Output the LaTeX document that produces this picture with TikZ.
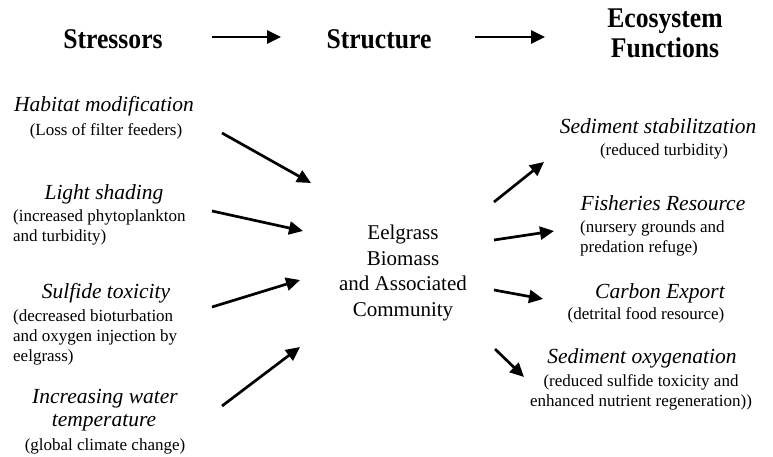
\documentclass[tikz,border=0pt]{standalone}
\usepackage{fontspec}
\setmainfont{Liberation Serif}
\newfontfamily\headfont{Liberation Serif}[FakeStretch=0.9]
\usetikzlibrary{arrows.meta}
\begin{document}
\begin{tikzpicture}[x=1pt,y=-1pt,>={Triangle[length=14pt,width=13pt]},line join=round,
  flow/.style={->,line width=2.7pt},
  head/.style={font=\fontsize{28.5}{30}\selectfont\headfont\bfseries,align=center,inner sep=0pt},
  stressor/.style={font=\fontsize{21.5}{24}\selectfont\itshape,anchor=base,inner sep=0pt},
  note/.style={font=\fontsize{17}{20}\selectfont,inner sep=0pt},
  core/.style={font=\fontsize{21}{25.7}\selectfont,align=center,inner sep=0pt}]
\useasboundingbox (0,0) rectangle (773,457);
\path
(212,37) coordinate (H1) (281,37) coordinate (H2)
(475,37) coordinate (H3) (545,37) coordinate (H4)
(222,133) coordinate (A1) (311,183) coordinate (A2)
(212,211) coordinate (B1) (303,231) coordinate (B2)
(212,307) coordinate (C1) (300,280) coordinate (C2)
(222,406) coordinate (D1) (300,347) coordinate (D2)
(494,202) coordinate (E1) (544,162) coordinate (E2)
(494,240) coordinate (F1) (554,231) coordinate (F2)
(494,290) coordinate (G1) (543,299) coordinate (G2)
(495,349) coordinate (K1) (524,377) coordinate (K2);
% headings
\node[head,anchor=base] (stress) at (113,49) {Stressors};
\node[head,anchor=base] (struct) at (379,49) {Structure};
\node[head,anchor=north] (func) at (665,9) {Ecosystem\\Functions};
\draw[flow] (H1) -- (H2);
\draw[flow] (H3) -- (H4);
% stressors
\node[stressor] (hab) at (104,112) {Habitat modification};
\node[note,anchor=base] (habN) at (106,136) {(Loss of filter feeders)};
\node[stressor] (light) at (104,200) {Light shading};
\node[note,anchor=north west,align=left] (lightN) at (13,210) {(increased phytoplankton\\and turbidity)};
\node[stressor] (sulf) at (106,298) {Sulfide toxicity};
\node[note,anchor=north west,align=left] (sulfN) at (13,310) {(decreased bioturbation\\and oxygen injection by\\eelgrass)};
\node[stressor] (temp) at (105,403) {Increasing water};
\node[stressor] (temp2) at (104,426) {temperature};
\node[note,anchor=base] (tempN) at (105,450) {(global climate change)};
% structure
\node[core] (eel) at (403,273) {Eelgrass\\Biomass\\and Associated\\Community};
% functions
\node[stressor] (sed) at (658,134) {Sediment stabilitzation};
\node[note,anchor=base] (sedN) at (664,156) {(reduced turbidity)};
\node[stressor] (fish) at (663,211) {Fisheries Resource};
\node[note,anchor=north west,align=left] (fishN) at (580,221) {(nursery grounds and\\predation refuge)};
\node[stressor] (carb) at (660,298) {Carbon Export};
\node[note,anchor=base] (carbN) at (646,319) {(detrital food resource)};
\node[stressor] (oxy) at (642,363) {Sediment oxygenation};
\node[note,anchor=north,align=center] (oxyN) at (641,374) {(reduced sulfide toxicity and\\enhanced nutrient regeneration))};
% arrows
\draw[flow] (A1) -- (A2);
\draw[flow] (B1) -- (B2);
\draw[flow] (C1) -- (C2);
\draw[flow] (D1) -- (D2);
\draw[flow] (E1) -- (E2);
\draw[flow] (F1) -- (F2);
\draw[flow] (G1) -- (G2);
\draw[flow] (K1) -- (K2);
\end{tikzpicture}
\end{document}
